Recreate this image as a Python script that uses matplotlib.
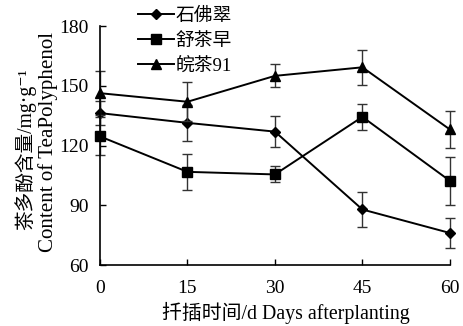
import matplotlib
matplotlib.use('Agg')
import matplotlib.pyplot as plt

plt.rcParams['font.family'] = ['Liberation Serif', 'Noto Sans CJK SC', 'DejaVu Serif']

days = [0, 15, 30, 45, 60]
names = ['石佛翠', '舒茶早', '皖茶91']
shifocui = [136.3, 131.4, 127.0, 87.9, 76.1]
shifocui_err = [6.0, 9.0, 7.9, 8.8, 7.5]
shuchazao = [124.6, 106.8, 105.5, 134.4, 102.3]
shuchazao_err = [9.5, 9.0, 4.0, 6.6, 12.0]
wancha91 = [146.3, 142.0, 155.0, 159.3, 128.1]
wancha91_err = [11.0, 9.7, 5.8, 8.8, 9.4]
yticks = [60, 90, 120, 150, 180]
xticks = [0, 15, 30, 45, 60]

fig = plt.figure(figsize=(4.64, 3.26), dpi=100)
ax = fig.add_axes([0.2155, 0.187, 0.754, 0.733])

series = [(shifocui, shifocui_err, 'D', 5.5),
          (shuchazao, shuchazao_err, 's', 6.5),
          (wancha91, wancha91_err, '^', 7)]
handles = []
for (vals, err, mk, ms), name in zip(series, names):
    ax.errorbar(days, vals, yerr=err, fmt='none', ecolor='#333333',
                elinewidth=1.0, capsize=3.5, capthick=1.0, clip_on=False)
    ln, = ax.plot(days, vals, color='black', marker=mk, markersize=ms,
                  linewidth=1.4, label=name, clip_on=False)
    handles.append(ln)

ax.set_xlim(0, 60)
ax.set_ylim(60, 180)
ax.set_xticks(xticks)
ax.set_yticks(yticks)
ax.spines['top'].set_visible(False)
ax.spines['right'].set_visible(False)
for s in ['left', 'bottom']:
    ax.spines[s].set_linewidth(1.2)
ax.tick_params(direction='in', length=4, width=1.0, labelsize=14)
ax.tick_params(axis='x', pad=11)
ax.tick_params(axis='y', pad=8)

xl = fig.text(0.616, 0.04, '扦插时间/d Days afterplanting', fontsize=14,
              ha='center', va='center')
yl1 = fig.text(0.054, 0.543, '茶多酚含量/mg·g⁻¹', rotation=90, fontsize=14,
               ha='center', va='center')
yl2 = fig.text(0.103, 0.564, 'Content of TeaPolyphenol', rotation=90, fontsize=14,
               ha='center', va='center')

# fit label lengths (in pixels) to the reference
r = fig.canvas.get_renderer()
for t, target, horiz in [(xl, 248, True), (yl1, 162, False), (yl2, 220, False)]:
    bb = t.get_window_extent(r)
    size = bb.width if horiz else bb.height
    t.set_fontsize(t.get_fontsize() * target / size)

ax.legend(handles=handles, loc='upper left', bbox_to_anchor=(0.298, 0.976),
          bbox_transform=fig.transFigure, frameon=False, fontsize=13.5,
          handlelength=1.9, handletextpad=0.1, labelspacing=0.4,
          borderaxespad=0, borderpad=0)

fig.savefig('out.png', dpi=100)
